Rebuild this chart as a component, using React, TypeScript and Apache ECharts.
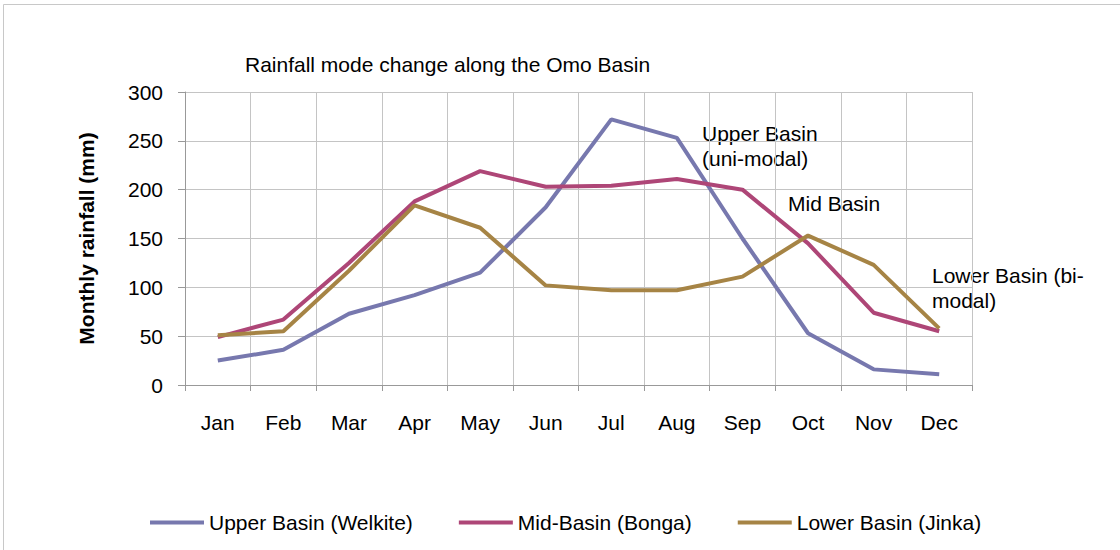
import React, { useEffect, useRef } from "react";
import * as echarts from "echarts";

const months = ["Jan", "Feb", "Mar", "Apr", "May", "Jun", "Jul", "Aug", "Sep", "Oct", "Nov", "Dec"];
const upperBasin = [25, 36, 73, 92, 115, 182, 272, 253, 150, 53, 16, 11];
const midBasin = [49, 67, 125, 188, 219, 203, 204, 211, 200, 145, 74, 55];
const lowerBasin = [51, 55, 117, 184, 161, 102, 97, 97, 111, 153, 123, 58];
const seriesNames = ["Upper Basin (Welkite)", "Mid-Basin (Bonga)", "Lower Basin (Jinka)"];
const colors = ["#7778ae", "#ae4677", "#a68445"];

const FONT = "'Liberation Sans', Arial, sans-serif";
const FS = 21;

export default function App() {
  const ref = useRef<HTMLDivElement>(null);
  useEffect(() => {
    if (!ref.current) return;
    const chart = echarts.init(ref.current, null, { renderer: "svg" });
    const mk = (name: string, data: number[], color: string) => ({
      name,
      type: "line",
      data,
      symbol: "none",
      lineStyle: { width: 4, color },
      itemStyle: { color },
    });
    chart.setOption({
      animation: false,
      backgroundColor: "#ffffff",
      textStyle: { fontFamily: FONT },
      grid: { left: 185, right: 148, top: 92, bottom: 165, containLabel: false },
      legend: {
        left: 145,
        top: 507,
        itemWidth: 54,
        itemHeight: 4,
        itemGap: 46,
        icon: "rect",
        textStyle: { fontSize: FS, color: "#000", fontFamily: FONT },
        data: seriesNames,
      },
      xAxis: {
        type: "category",
        data: months,
        boundaryGap: true,
        axisLine: { lineStyle: { color: "#999999", width: 1 } },
        axisTick: { show: true, length: 6, lineStyle: { color: "#999999" } },
        axisLabel: { margin: 27, fontSize: FS, color: "#000", fontFamily: FONT },
        splitLine: { show: true, lineStyle: { color: "#c4c4c4", width: 1 } },
      },
      yAxis: {
        type: "value",
        min: 0,
        max: 300,
        interval: 50,
        name: "Monthly rainfall (mm)",
        nameLocation: "middle",
        nameGap: 88,
        nameTextStyle: { fontSize: FS, fontWeight: "bold", color: "#000", fontFamily: FONT },
        axisLine: { show: true, lineStyle: { color: "#999999", width: 1 } },
        axisTick: { show: true, length: 7, lineStyle: { color: "#999999" } },
        axisLabel: { margin: 22, fontSize: FS, color: "#000", fontFamily: FONT },
        splitLine: { show: true, lineStyle: { color: "#c4c4c4", width: 1 } },
      },
      graphic: [
        {
          type: "rect",
          shape: { x: 3.5, y: 4.5, width: 1200, height: 700 },
          style: { fill: "none", stroke: "#c8c8c8", lineWidth: 1 },
          silent: true,
        },
        {
          type: "text",
          left: 245,
          top: 54,
          style: { text: "Rainfall mode change along the Omo Basin", fontSize: FS, fill: "#000", fontFamily: FONT },
        },
        {
          type: "text",
          left: 702,
          top: 121,
          style: { text: "Upper Basin\n(uni-modal)", fontSize: FS, lineHeight: 25, fill: "#000", fontFamily: FONT },
        },
        {
          type: "text",
          left: 788,
          top: 193,
          style: { text: "Mid Basin", fontSize: FS, fill: "#000", fontFamily: FONT },
        },
        {
          type: "text",
          left: 932,
          top: 263,
          style: { text: "Lower Basin (bi-\nmodal)", fontSize: FS, lineHeight: 25, fill: "#000", fontFamily: FONT },
        },
      ],
      series: [
        mk(seriesNames[0], upperBasin, colors[0]),
        mk(seriesNames[1], midBasin, colors[1]),
        mk(seriesNames[2], lowerBasin, colors[2]),
      ],
    });
    return () => chart.dispose();
  }, []);
  return (
    <div
      ref={ref}
      style={{ position: "absolute", left: 0, top: 0, width: 1120, height: 550 }}
    />
  );
}
